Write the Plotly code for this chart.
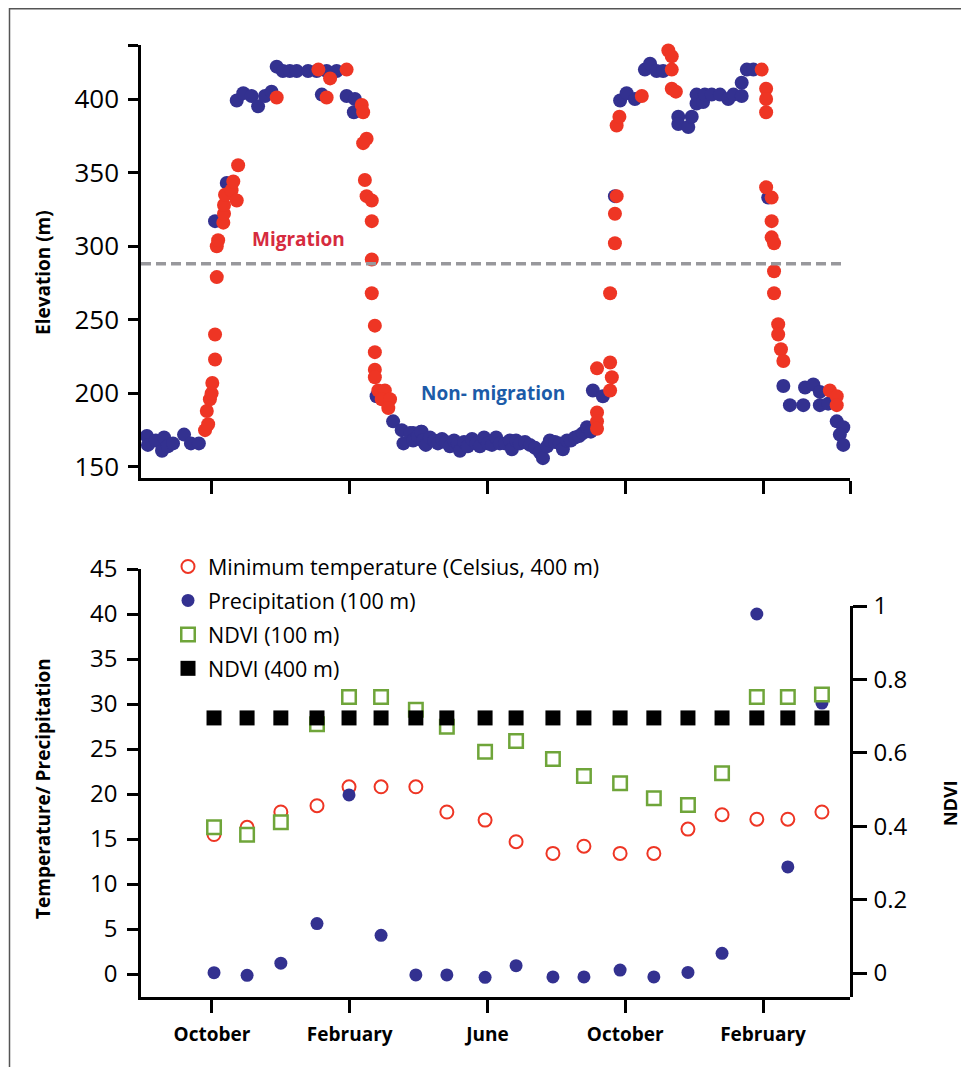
import plotly.graph_objects as go

# ---------------- Top panel: elevation track (x = months since 1 October, year 1) -------------
nonmig_month = [-1.89, -1.86, -1.63, -1.45, -1.39, -1.28, -1.13, -0.81, -0.61, -0.38,
                0.09, 0.43,
                0.72, 0.91, 1.15, 1.34, 1.54, 1.73,
                1.88, 2.06, 2.26, 2.46, 2.79, 3.04, 3.33, 3.62, 3.19, 3.91, 4.15, 4.12,
                4.78, 5.26, 5.51, 5.56, 5.84, 6.09, 6.18,
                5.75, 5.84, 5.98, 6.07, 6.13, 6.21, 6.33, 6.45, 6.56, 6.68, 6.79, 6.91, 7.03, 7.14,
                7.20, 7.32, 7.43, 7.55, 7.67, 7.78, 7.90, 8.01, 8.13, 8.25, 8.36, 8.51, 8.65, 8.71,
                8.83, 8.94, 9.09, 9.23, 9.38, 9.52, 9.61, 9.73, 9.81, 9.96, 10.10, 10.19, 10.31,
                10.42, 10.54, 10.66, 10.77, 10.89, 11.00,
                11.06, 11.35, 11.70, 11.85, 12.04, 12.28, 12.57, 12.72, 12.91, 13.10,
                13.54, 13.54, 13.83, 13.93, 14.07, 14.07, 14.26, 14.31, 14.51, 14.75, 14.99, 15.14,
                15.38, 15.38, 15.53, 15.72,
                16.15,
                16.59, 16.78, 17.17, 17.22, 17.46, 17.65, 17.65, 17.89, 18.14, 18.33, 18.23, 18.57, 18.33]
nonmig_elev = [171, 165, 168, 161, 170, 164, 166, 172, 166, 166,
               317, 343,
               399, 404, 402, 395, 402, 405,
               422, 419, 419, 419, 419, 419, 419, 419, 403, 402, 400, 391,
               198, 181, 175, 166, 173, 174, 166,
               173, 168, 171, 174, 168, 165, 170, 168, 166, 169, 167, 164, 168, 166,
               161, 167, 164, 169, 166, 164, 170, 166, 165, 170, 166, 166, 168, 162,
               168, 166, 167, 165, 163, 160, 156, 164, 168, 167, 166, 162, 168,
               168, 170, 171, 173, 177, 174,
               202, 198, 334, 399, 404, 400, 420, 424, 419, 419,
               388, 383, 381, 388, 397, 403, 398, 403, 403, 403, 400, 403,
               402, 411, 420, 420,
               333,
               205, 192, 192, 204, 206, 201, 192, 193, 181, 177, 172, 172, 165]

mig_month = [-0.20, -0.11, -0.15, -0.06, -0.01, 0.01, 0.09, 0.09, 0.14, 0.14, 0.18, 0.33, 0.35,
             0.35, 0.38, 0.57, 0.62, 0.72, 0.76,
             1.88, 3.09, 3.43, 3.33, 3.91, 4.35, 4.39, 4.49, 4.39,
             4.44, 4.49, 4.64, 4.64, 4.64, 4.64, 4.73, 4.73, 4.73, 4.73, 4.83, 5.02, 4.93, 5.17, 5.12,
             11.18, 11.18, 11.18, 11.18, 11.56, 11.61, 11.56, 11.56, 11.70, 11.70, 11.75, 11.75,
             11.83, 12.48,
             13.25, 13.35, 13.35, 13.35, 13.47, 15.96, 16.09, 16.09, 16.09,
             16.09, 16.25, 16.25, 16.25, 16.32, 16.32, 16.32, 16.44, 16.44, 16.52, 16.59,
             17.94, 18.14, 18.14]
mig_elev = [175, 179, 188, 196, 200, 207, 223, 240, 279, 300, 304, 316, 322,
            328, 335, 338, 344, 331, 355,
            401, 420, 414, 401, 420, 396, 391, 373, 370,
            345, 334, 331, 317, 291, 268, 246, 228, 216, 211, 202, 202, 196, 196, 190,
            187, 181, 176, 217, 221, 211, 202, 268, 302, 322, 334, 382,
            388, 402,
            433, 429, 420, 407, 405, 420, 407, 400, 391,
            340, 333, 317, 306, 302, 283, 268, 247, 240, 230, 222,
            202, 198, 192]

MIGRATION_THRESHOLD = 288

# ---------------- Bottom panel: monthly environment -------------------------------------------
env_month = [0.06, 1.02, 2.00, 3.05, 3.98, 4.91, 5.92, 6.82, 7.93, 8.83, 9.90, 10.80,
             11.85, 12.83, 13.82, 14.81, 15.82, 16.72, 17.71]
min_temp = [15.5, 16.3, 18.0, 18.7, 20.8, 20.8, 20.8, 18.0, 17.1, 14.7, 13.4, 14.2,
            13.4, 13.4, 16.1, 17.7, 17.2, 17.2, 18.0]
precip = [0.15, -0.15, 1.2, 5.6, 19.9, 4.3, -0.1, -0.1, -0.37, 0.93, -0.33, -0.33,
          0.44, -0.33, 0.18, 2.3, 40.0, 11.9, 30.1]
ndvi_100 = [0.397, 0.377, 0.411, 0.678, 0.752, 0.752, 0.717, 0.671, 0.603, 0.632, 0.583, 0.537,
            0.517, 0.476, 0.458, 0.544, 0.752, 0.752, 0.759]
ndvi_400 = [0.695, 0.695, 0.695, 0.695, 0.695, 0.695, 0.695, 0.695, 0.695, 0.695, 0.695, 0.695,
            0.695, 0.695, 0.695, 0.695, 0.695, 0.695, 0.695]

month_ticks = [0, 4, 8, 12, 16]
month_labels = ["October", "February", "June", "October", "February"]
X_RANGE = [-2.06, 18.525]

BLUE = "#333190"
RED = "#ee3524"
GREEN = "#6fa53a"
FONT = "Open Sans"

OFF = 8  # page body margin
W, H = 969 - 2 * OFF, 1075 - 2 * OFF  # figure fits the window without scrollbars


def px(xp):
    return (xp - OFF) / W


def py(yp):
    return 1 - (yp - OFF) / H


fig = go.Figure()

# top panel
fig.add_trace(go.Scatter(x=nonmig_month, y=nonmig_elev, mode="markers", xaxis="x", yaxis="y",
                         marker=dict(size=14, color=BLUE), showlegend=False, cliponaxis=False))
fig.add_trace(go.Scatter(x=mig_month, y=mig_elev, mode="markers", xaxis="x", yaxis="y",
                         marker=dict(size=14, color=RED), showlegend=False, cliponaxis=False))

# bottom panel (draw order), legend ranks give legend order
fig.add_trace(go.Scatter(x=env_month, y=min_temp, mode="markers", xaxis="x2", yaxis="y3",
                         name="Minimum temperature (Celsius, 400 m)", legendgroup="a", legendrank=1,
                         marker=dict(symbol="circle", size=13, color="white", line=dict(color=RED, width=2)),
                         cliponaxis=False))
fig.add_trace(go.Scatter(x=env_month, y=precip, mode="markers", xaxis="x2", yaxis="y3",
                         name="Precipitation (100 m)", legendgroup="b", legendrank=2,
                         marker=dict(symbol="circle", size=13, color=BLUE), cliponaxis=False))
fig.add_trace(go.Scatter(x=env_month, y=ndvi_100, mode="markers", xaxis="x2", yaxis="y4",
                         name="NDVI (100 m)", legendgroup="c", legendrank=3,
                         marker=dict(symbol="square", size=13.5, color="white", line=dict(color=GREEN, width=2.5)),
                         cliponaxis=False))
fig.add_trace(go.Scatter(x=env_month, y=ndvi_400, mode="markers", xaxis="x2", yaxis="y4",
                         name="NDVI (400 m)", legendgroup="d", legendrank=4,
                         marker=dict(symbol="square", size=15, color="black"), cliponaxis=False))

xdom = [px(141), px(850)]
axis_common = dict(showgrid=False, zeroline=False, showline=True, linecolor="black", linewidth=2.5,
                   ticks="outside", tickcolor="black", tickwidth=2.5, automargin=False)

fig.update_layout(
    width=W, height=H, margin=dict(l=0, r=0, t=0, b=0, autoexpand=False),
    paper_bgcolor="white", plot_bgcolor="rgba(0,0,0,0)",
    font=dict(family=FONT, color="black"),
    xaxis=dict(**axis_common, domain=xdom, range=X_RANGE, anchor="y",
               tickvals=month_ticks + [X_RANGE[1]], ticktext=["", "", "", "", "", ""], ticklen=13),
    yaxis=dict(**axis_common, domain=[py(478), py(45)], range=[142.5, 436.7], anchor="x",
               tickvals=[150, 200, 250, 300, 350, 400, 436.7],
               ticktext=["150", "200", "250", "300", "350", "400", ""],
               ticklen=10, tickfont=dict(size=26), ticklabelstandoff=4),
    xaxis2=dict(**axis_common, domain=xdom, range=X_RANGE, anchor="y3",
                tickvals=month_ticks, ticktext=month_labels, ticklen=13,
                tickfont=dict(size=19, weight="bold"), ticklabelstandoff=5),
    yaxis3=dict(**axis_common, domain=[py(997), py(569)], range=[-2.556, 45], anchor="x2",
                tickvals=[0, 5, 10, 15, 20, 25, 30, 35, 40, 45], ticklen=11,
                tickfont=dict(size=24), ticklabelstandoff=5),
    yaxis4=dict(**axis_common, domain=[py(997), py(606)], range=[-0.0654, 1.0], anchor="x2",
                side="right", tickvals=[0, 0.2, 0.4, 0.6, 0.8, 1],
                ticktext=["0", "0.2", "0.4", "0.6", "0.8", "1"],
                ticklen=14, tickfont=dict(size=24), ticklabelstandoff=2),
    legend=dict(x=px(168), y=py(546), xanchor="left", yanchor="top", bgcolor="rgba(0,0,0,0)",
                font=dict(size=21.5, family=FONT), traceorder="grouped", tracegroupgap=3,
                itemsizing="trace"),
    showlegend=True,
)

# threshold line
fig.add_shape(type="line", xref="x domain", yref="y", x0=0, x1=0.99,
              y0=MIGRATION_THRESHOLD, y1=MIGRATION_THRESHOLD,
              line=dict(color="#98989c", width=3.5, dash="10px,5px"))

# frame
fig.add_shape(type="rect", xref="paper", yref="paper", x0=px(9.5), x1=px(990), y0=py(1100), y1=py(8.7),
              line=dict(color="#555555", width=1.5), fillcolor="rgba(0,0,0,0)", layer="below")

centered = dict(showarrow=False, xanchor="center", yanchor="middle")
ann = [
    dict(x=2.51, y=305, xref="x", yref="y", text="<b>Migration</b>",
         font=dict(size=19, color="#d62b3e"), **centered),
    dict(x=8.16, y=200.5, xref="x", yref="y", text="<b>Non- migration</b>",
         font=dict(size=19, color="#1c5ba8"), **centered),
    dict(x=px(43), y=py(273), xref="paper", yref="paper", text="<b>Elevation (m)</b>",
         textangle=-90, font=dict(size=19), **centered),
    dict(x=px(43), y=py(789), xref="paper", yref="paper", text="<b>Temperature/ Precipitation</b>",
         textangle=-90, font=dict(size=19), **centered),
    dict(x=px(950), y=py(803), xref="paper", yref="paper", text="<b>NDVI</b>",
         textangle=-90, font=dict(size=18), **centered),
]
fig.update_layout(annotations=ann)

fig.write_html("out.html")
